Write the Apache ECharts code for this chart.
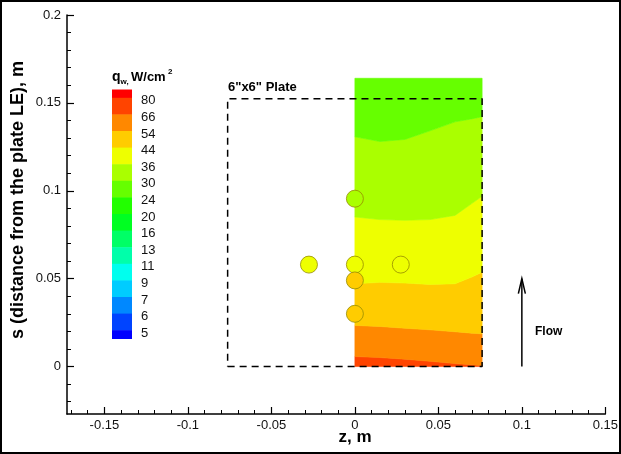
<!DOCTYPE html>
<html>
<head>
<meta charset="utf-8">
<script src="https://cdn.jsdelivr.net/npm/echarts@6/dist/echarts.min.js"></script>
<style>
html,body{margin:0;padding:0;background:#fff;}
#chart{width:621px;height:454px;}
</style>
</head>
<body>
<div id="chart"></div>
<script>
// ---- axis ticks ----
var xMajorTicks = [-0.15, -0.1, -0.05, 0, 0.05, 0.1, 0.15];
var xMinorTicks = [-0.17, -0.16, -0.14, -0.13, -0.12, -0.11, -0.09, -0.08, -0.07, -0.06, -0.04, -0.03, -0.02, -0.01,
                   0.01, 0.02, 0.03, 0.04, 0.06, 0.07, 0.08, 0.09, 0.11, 0.12, 0.13, 0.14];
var yMajorTicks = [0, 0.05, 0.1, 0.15, 0.2];
var yMinorTicks = [-0.02, -0.01, 0.01, 0.02, 0.03, 0.04, 0.06, 0.07, 0.08, 0.09, 0.11, 0.12, 0.13, 0.14,
                   0.16, 0.17, 0.18, 0.19];

// ---- contour legend (levels, band colours low->high) ----
var contourLevels = [5, 6, 7, 9, 11, 13, 16, 20, 24, 30, 36, 44, 54, 66, 80];
var bandColors = ['#0000ff', '#0044ff', '#0088ff', '#00ccff', '#00ffee', '#00ffaa', '#00ff66', '#00ff22',
                  '#22ff00', '#66ff00', '#aaff00', '#eeff00', '#ffcc00', '#ff8800', '#ff4400', '#ff0000'];

// ---- contour field: iso-line positions s(z) ----
var contourZ = [0, 0.015, 0.03, 0.045, 0.06, 0.07, 0.0762];
var edgeBottomS = [0, 0, 0, 0, 0, 0, 0];
var iso66S = [0.0057, 0.0051, 0.0042, 0.0030, 0.0017, 0.0010, 0.0006];
var iso54S = [0.0234, 0.0228, 0.0218, 0.0209, 0.0198, 0.0190, 0.0186];
var iso44S = [0.0471, 0.0479, 0.0475, 0.0467, 0.0471, 0.0509, 0.0537];
var iso36S = [0.0851, 0.0836, 0.0832, 0.0836, 0.0860, 0.0927, 0.0969];
var iso30S = [0.1307, 0.1280, 0.1292, 0.1341, 0.1392, 0.1409, 0.1421];
var edgeTopS = [0.164, 0.164, 0.164, 0.164, 0.164, 0.164, 0.164];
// representative heat flux inside each band (bottom -> top)
var bandQ = [70, 60, 48, 40, 33, 27];

// ---- gauge (probe) locations and values ----
var probeZ = [0, -0.0275, 0, 0.0275, 0, 0];
var probeS = [0.0955, 0.058, 0.058, 0.058, 0.049, 0.030];
var probeQ = [34, 40, 40, 40, 47, 48];

// ---- plate outline (6"x6") ----
var plateZ = [-0.0762, 0.0762, 0.0762, -0.0762, -0.0762];
var plateS = [0, 0, 0.1524, 0.1524, 0];

// ---- flow arrow ----
var flowZ = 0.1;
var flowS = [0, 0.05];

function colorFor(q) {
  var k = 0;
  for (var i = 0; i < contourLevels.length; i++) { if (q >= contourLevels[i]) k = i + 1; }
  return bandColors[k];
}

var boundaries = [edgeBottomS, iso66S, iso54S, iso44S, iso36S, iso30S, edgeTopS];
var bandData = bandQ.map(function (q, i) { return [contourZ[0], boundaries[i][0], i, q]; });

var chart = echarts.init(document.getElementById('chart'), null, {renderer: 'canvas'});

var axisLineStyle = {color: '#000', width: 1.5};
var tFont = 'Liberation Sans, Arial, sans-serif';
var X_MIN = -0.1724, X_MAX = 0.15, Y_MIN = -0.027, Y_MAX = 0.2;

// colour bar graphic
var graphics = [];
var cbX = 112, cbW = 20, cbTop = 89.5, bandH = 16.6;
var nBands = bandColors.length;
for (var b = nBands - 1; b >= 0; b--) {
  var idxFromTop = nBands - 1 - b;
  var y0, h;
  if (idxFromTop === 0) { y0 = cbTop; h = bandH / 2; }
  else if (b === 0) { y0 = cbTop + bandH / 2 + (nBands - 2) * bandH; h = bandH / 2; }
  else { y0 = cbTop + bandH / 2 + (idxFromTop - 1) * bandH; h = bandH; }
  graphics.push({type: 'rect', shape: {x: cbX, y: y0, width: cbW, height: h + 0.5},
                 style: {fill: bandColors[b]}, silent: true});
}
for (var l = 0; l < contourLevels.length; l++) {
  var lv = contourLevels[contourLevels.length - 1 - l];
  graphics.push({type: 'text', x: 141, y: cbTop + bandH / 2 + l * bandH + 3,
    style: {text: String(lv), fill: '#111', fontSize: 13, fontFamily: tFont,
            align: 'left', verticalAlign: 'middle'}, silent: true});
}
// colour bar title q_w, W/cm^2
graphics.push({type: 'text', x: 112, y: 77, style: {text: 'q', fill: '#000', fontSize: 14, fontWeight: 'bold', fontFamily: tFont, verticalAlign: 'middle'}});
graphics.push({type: 'text', x: 120.5, y: 82, style: {text: 'w,', fill: '#000', fontSize: 8, fontWeight: 'bold', fontFamily: tFont, verticalAlign: 'middle'}});
graphics.push({type: 'text', x: 131, y: 77, style: {text: 'W/cm', fill: '#000', fontSize: 13, fontWeight: 'bold', fontFamily: tFont, verticalAlign: 'middle'}});
graphics.push({type: 'text', x: 168, y: 72, style: {text: '2', fill: '#000', fontSize: 8, fontWeight: 'bold', fontFamily: tFont, verticalAlign: 'middle'}});
// plate label
graphics.push({type: 'text', x: 228, y: 87, style: {text: '6"x6" Plate', fill: '#000', fontSize: 13, fontWeight: 'bold', fontFamily: tFont, verticalAlign: 'middle'}});
// flow label
graphics.push({type: 'text', x: 535, y: 332, style: {text: 'Flow', fill: '#000', fontSize: 12, fontWeight: 'bold', fontFamily: tFont, verticalAlign: 'middle'}});
// axis titles
graphics.push({type: 'text', x: 355, y: 437, style: {text: 'z, m', fill: '#000', fontSize: 17, fontWeight: 'bold', fontFamily: tFont, align: 'center', verticalAlign: 'middle'}});
graphics.push({type: 'text', x: 18, y: 200, rotation: Math.PI / 2,
  style: {text: 's (distance from the plate LE), m', fill: '#000', fontSize: 18, fontWeight: 'bold', fontFamily: tFont, align: 'center', verticalAlign: 'middle'}});
// outer frame
graphics.push({type: 'rect', shape: {x: 1, y: 1, width: 619, height: 452}, style: {fill: 'none', stroke: '#000', lineWidth: 2}, silent: true, z: 100});

var option = {
  animation: false,
  backgroundColor: '#fff',
  grid: {left: 67, right: 13, top: 15, bottom: 40, containLabel: false},
  xAxis: [{
    type: 'value', position: 'bottom', min: X_MIN, max: X_MAX,
    axisLine: {show: true, onZero: false, lineStyle: axisLineStyle},
    axisTick: {show: true, inside: true, length: 7, customValues: xMajorTicks, lineStyle: {color: '#000', width: 1.2}},
    axisLabel: {show: true, customValues: xMajorTicks, margin: 5, color: '#111', fontSize: 13, fontFamily: tFont},
    splitLine: {show: false}
  }, {
    type: 'value', position: 'bottom', min: X_MIN, max: X_MAX,
    axisLine: {show: false, onZero: false},
    axisTick: {show: true, inside: true, length: 4, customValues: xMinorTicks, lineStyle: {color: '#000', width: 1}},
    axisLabel: {show: false}, splitLine: {show: false}
  }],
  yAxis: [{
    type: 'value', position: 'left', min: Y_MIN, max: Y_MAX,
    axisLine: {show: true, onZero: false, lineStyle: axisLineStyle},
    axisTick: {show: true, inside: true, length: 7, customValues: yMajorTicks, lineStyle: {color: '#000', width: 1.2}},
    axisLabel: {show: true, customValues: yMajorTicks, margin: 6, color: '#111', fontSize: 13, fontFamily: tFont},
    splitLine: {show: false}
  }, {
    type: 'value', position: 'left', min: Y_MIN, max: Y_MAX,
    axisLine: {show: false, onZero: false},
    axisTick: {show: true, inside: true, length: 4, customValues: yMinorTicks, lineStyle: {color: '#000', width: 1}},
    axisLabel: {show: false}, splitLine: {show: false}
  }],
  graphic: graphics,
  series: [{
    type: 'custom', name: 'contour', coordinateSystem: 'cartesian2d', xAxisIndex: 0, yAxisIndex: 0,
    silent: true, z: 1, clip: true,
    data: bandData,
    renderItem: function (params, api) {
      var i = api.value(2);
      var lower = boundaries[i], upper = boundaries[i + 1];
      var pts = [];
      for (var k = 0; k < contourZ.length; k++) pts.push(api.coord([contourZ[k], lower[k]]));
      for (var k2 = contourZ.length - 1; k2 >= 0; k2--) pts.push(api.coord([contourZ[k2], upper[k2]]));
      return {type: 'polygon', shape: {points: pts},
              style: {fill: colorFor(api.value(3)), stroke: colorFor(api.value(3)), lineWidth: 0.6}};
    }
  }, {
    type: 'line', name: 'plate', xAxisIndex: 0, yAxisIndex: 0, z: 3, silent: true,
    data: plateZ.map(function (z, i) { return [z, plateS[i]]; }),
    symbol: 'none', lineStyle: {color: '#000', width: 1.5, type: [7, 5]}
  }, {
    type: 'scatter', name: 'gauges', xAxisIndex: 0, yAxisIndex: 0, z: 4, silent: true,
    data: probeZ.map(function (z, i) { return [z, probeS[i], probeQ[i]]; }),
    symbol: 'circle', symbolSize: 17,
    itemStyle: {
      color: function (p) { return colorFor(p.data[2]); },
      borderColor: 'rgba(150,140,0,0.8)', borderWidth: 1, opacity: 1
    }
  }, {
    type: 'custom', name: 'flow', coordinateSystem: 'cartesian2d', xAxisIndex: 0, yAxisIndex: 0, z: 3, silent: true,
    data: [[flowZ, flowS[0], flowS[1]]],
    renderItem: function (params, api) {
      var p0 = api.coord([api.value(0), api.value(1)]);
      var p1 = api.coord([api.value(0), api.value(2)]);
      return {type: 'group', children: [
        {type: 'line', shape: {x1: p0[0], y1: p0[1], x2: p1[0], y2: p1[1]}, style: {stroke: '#000', lineWidth: 1.5}},
        {type: 'polyline', shape: {points: [[p1[0] - 3.5, p1[1] + 15], [p1[0], p1[1]], [p1[0] + 3.5, p1[1] + 15]]},
         style: {stroke: '#000', lineWidth: 1.5, fill: 'none'}}
      ]};
    }
  }]
};
chart.setOption(option);
</script>
</body>
</html>
